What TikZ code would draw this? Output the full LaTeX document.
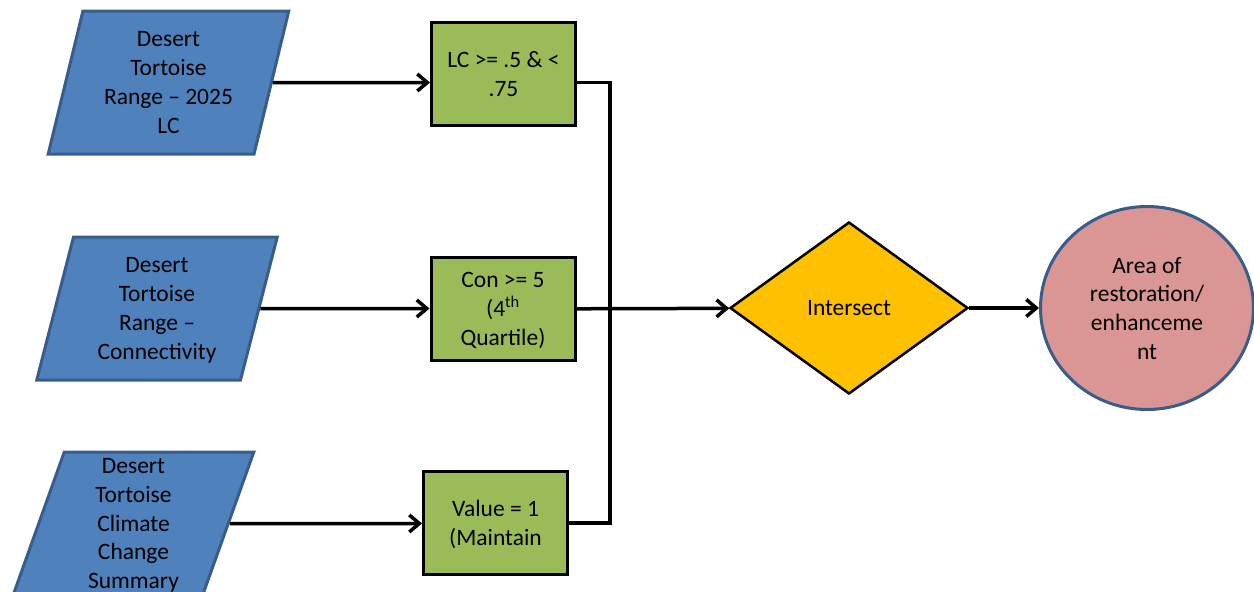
\documentclass[tikz,border=0pt]{standalone}
\usepackage{fontspec}
\setmainfont{Carlito}
\usetikzlibrary{shapes}
\usetikzlibrary{arrows.meta}

\definecolor{inputblue}{HTML}{4F81BD}
\definecolor{borderblue}{HTML}{385D8A}
\definecolor{boxgreen}{HTML}{9BBB59}
\definecolor{meetyellow}{HTML}{FFC000}
\definecolor{resultpink}{HTML}{D99694}

\begin{document}
\begin{tikzpicture}[x=1pt,y=-1pt,
    every node/.style={font=\fontsize{23.5}{28.7}\selectfont, align=center, inner sep=0pt},
    lines/.style={text depth=-4pt},
    input/.style={lines, trapezium, trapezium left angle=75.5, trapezium right angle=104.5,
        trapezium stretches=true, minimum width=241, minimum height=143,
        draw=borderblue, fill=inputblue, line width=3pt},
    rule/.style={lines, rectangle, minimum width=144, minimum height=103,
        draw=black, fill=boxgreen, line width=3pt},
    link/.style={line width=3.5pt},
    arrow/.style={link, -{Straight Barb[length=10pt,width=17pt]}}]
    \useasboundingbox (0,0) rectangle (1254,592);
    % inputs
    \node[input] (lc) at (168.5,82.5) {Desert\\Tortoise\\Range -- 2025\\LC};
    \node[input] (con) at (157,308.5) {Desert\\Tortoise\\Range --\\Connectivity};
    \node[input] (cc) at (133.5,523.5) {Desert\\Tortoise\\Climate\\Change\\Summary};
    % selections
    \node[rule] (g1) at (503.5,74) {LC >= .5 \& <\\.75};
    \node[rule] (g2) at (503,309) {Con >= 5\\(4\smash{\textsuperscript{th}}\\Quartile)};
    \node[rule] (g3) at (495.5,523) {Value = 1\\(Maintain};
    \node[diamond, minimum width=238, minimum height=172, draw=black, fill=meetyellow,
        line width=2.5pt] (meet) at (849,308) {Intersect};
    \node[lines, ellipse, minimum width=213, minimum height=203, draw=borderblue, fill=resultpink,
        line width=3pt] (result) at (1147,308) {Area of\\restoration/\\enhanceme\\nt};
    \coordinate (bus) at (610,523);
    % connectors
    \draw[arrow] (lc) -- (lc -| g1.west);
    \draw[arrow] (con) -- (con -| g2.west);
    \draw[arrow] (cc) -- (cc -| g3.west);
    \draw[link] (g1.east |- lc) -| (bus) -- (g3.east);
    \draw[arrow] (g2) -- (meet);
    \draw[arrow] (meet) -- (result);
\end{tikzpicture}
\end{document}
